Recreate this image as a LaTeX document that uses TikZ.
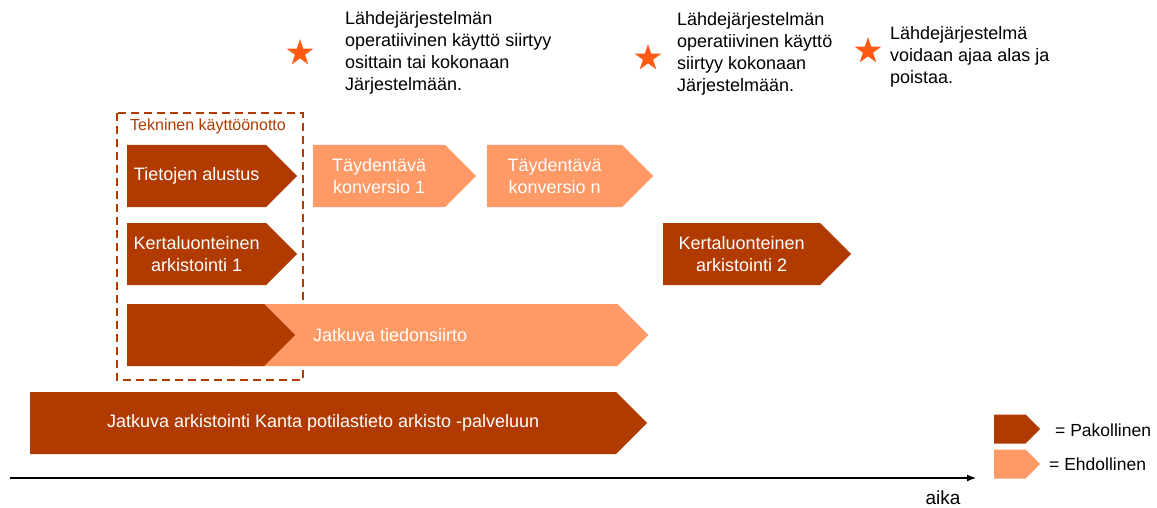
\documentclass[tikz,border=0pt]{standalone}
\usepackage{fontspec}
\setmainfont{Liberation Sans}
\usetikzlibrary{shapes.symbols, shapes.geometric, arrows.meta, positioning}
\definecolor{mrust}{HTML}{B03A00}
\definecolor{mpeach}{HTML}{FF9966}
\definecolor{mstar}{HTML}{FF5A14}
\tikzstyle{phase} = [signal, signal to=east, signal pointer angle=90, minimum height=62pt, inner sep=0pt, text=white, align=center, font=\fontsize{18}{22}\selectfont]
\tikzstyle{must} = [phase, fill=mrust]
\tikzstyle{maybe} = [phase, fill=mpeach]
\tikzstyle{keybox} = [signal, signal to=east, signal pointer angle=90, minimum width=46pt, minimum height=29pt, inner sep=0pt]
\tikzstyle{milestone} = [star, star points=5, star point ratio=2.6, minimum size=28pt, inner sep=0pt, fill=mstar]
\tikzstyle{note} = [anchor=north west, inner sep=0pt, align=left, font=\fontsize{18}{22}\selectfont]
\tikzstyle{timeline} = [line width=1.1pt, -{Latex[length=9pt, width=7pt]}]

\begin{document}
\begin{tikzpicture}[x=1pt, y=-1pt]
  \useasboundingbox (0,0) rectangle (1157,508);
  % milestones
  \node (star1) [milestone] at (300,53) {};
  \node (star2) [milestone] at (648,58) {};
  \node (star3) [milestone] at (868,51) {};
  \node (note1) [note] at (345,11) {Lähdejärjestelmän\\operatiivinen käyttö siirtyy\\osittain tai kokonaan\\Järjestelmään.};
  \node (note2) [note] at (677,12) {Lähdejärjestelmän\\operatiivinen käyttö\\siirtyy kokonaan\\Järjestelmään.};
  \node (note3) [note] at (890,26) {Lähdejärjestelmä\\voidaan ajaa alas ja\\poistaa.};
  % technical deployment
  \draw [mrust, line width=1.2pt, dash pattern=on 8pt off 5pt] (117,113) rectangle (303,380);
  \node (tekn) [anchor=west, inner sep=0pt, text=mrust, font=\fontsize{16}{18}\selectfont] at (130,126) {Tekninen käyttöönotto};
  \node (alustus) [must, anchor=west, minimum width=170pt] at (127,176) {Tietojen alustus};
  \node (ark1) [must, anchor=west, minimum width=170pt] at (127,254) {Kertaluonteinen\\arkistointi 1};
  \node (siirto) [maybe, signal from=west, anchor=west, minimum width=414pt] at (265,335) {};
  \node (siirtoalku) [must, anchor=west, minimum width=168pt] at (127,335) {};
  \node (siirtoteksti) [anchor=west, inner sep=0pt, text=white, font=\fontsize{18}{22}\selectfont] at (313,335) {Jatkuva tiedonsiirto};
  % optional conversions
  \node (konv1) [maybe, anchor=west, minimum width=163pt] at (313,176) {Täydentävä\\konversio 1};
  \node (konvn) [maybe, anchor=west, minimum width=166pt] at (487,176) {Täydentävä\\konversio n};
  \node (ark2) [must, anchor=west, minimum width=188pt] at (663,254) {Kertaluonteinen\\arkistointi 2};
  \node (kanta) [must, anchor=west, minimum width=617pt] at (30,423) {Jatkuva arkistointi Kanta potilastieto arkisto -palveluun};
  % legend
  \node (keymust) [keybox, fill=mrust, anchor=west] at (994,429) {};
  \node (keymaybe) [keybox, fill=mpeach, anchor=west] at (994,464) {};
  \node (keymusttxt) [anchor=west, inner sep=0pt, font=\fontsize{17.5}{20}\selectfont] at (1055,430) {= Pakollinen};
  \node (keymaybetxt) [anchor=west, inner sep=0pt, font=\fontsize{17.5}{20}\selectfont] at (1049,464) {= Ehdollinen};
  % time axis
  \coordinate (t0) at (10,478);
  \coordinate (t1) at (976,478);
  \draw [timeline] (t0) -- (t1);
  \node (aika) [font=\fontsize{19}{22}\selectfont, inner sep=0pt] at (943,498) {aika};
\end{tikzpicture}
\end{document}
